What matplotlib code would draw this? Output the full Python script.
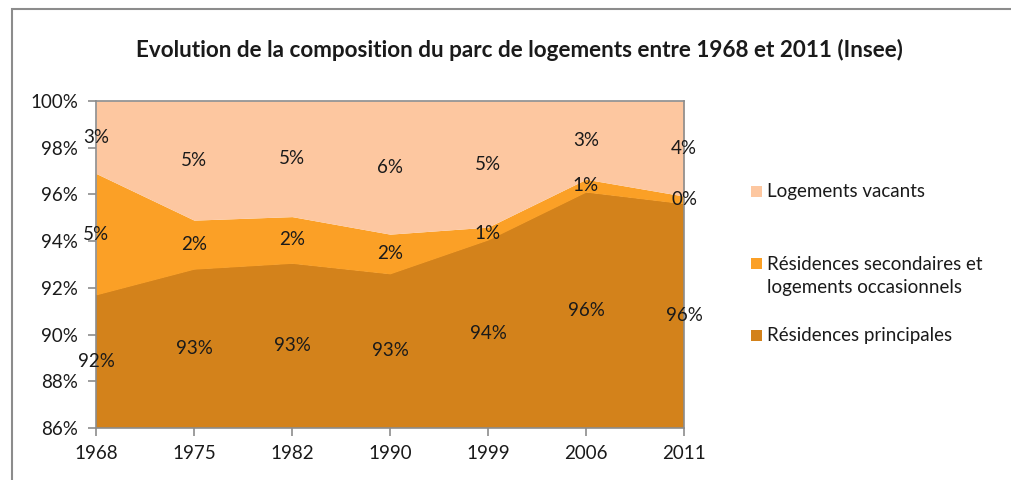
import matplotlib.pyplot as plt
from matplotlib.patches import Rectangle
import numpy as np

plt.rcParams['font.family'] = ['Lato', 'DejaVu Sans']

years = ['1968', '1975', '1982', '1990', '1999', '2006', '2011']
principales = [91.7, 92.8, 93.05, 92.6, 94.05, 96.1, 95.6]
secondaires = [5.2, 2.1, 2.0, 1.7, 0.55, 0.55, 0.33]
vacants = [3.1, 5.1, 4.95, 5.7, 5.4, 3.35, 4.07]

names = ['Logements vacants',
         'Résidences secondaires et\nlogements occasionnels',
         'Résidences principales']
colors = {'vac': '#fdc7a0', 'sec': '#fba026', 'pri': '#d3821b'}

x = np.arange(len(years))
p = np.array(principales)
s = p + np.array(secondaires)
v = s + np.array(vacants)

fig = plt.figure(figsize=(10.11, 4.8), dpi=100)
ax = fig.add_axes([96 / 1011, 1 - 428 / 480, 588 / 1011, 327 / 480])

ax.fill_between(x, 0, p, color=colors['pri'], lw=0)
ax.fill_between(x, p, s, color=colors['sec'], lw=0)
ax.fill_between(x, s, v, color=colors['vac'], lw=0)

ymin, ymax = 86, 100
ax.set_xlim(0, len(years) - 1)
ax.set_ylim(ymin, ymax)

fs = 13.5

# data labels, centred in the visible part of each band
for lo, hi, vals in [(np.zeros_like(p), p, principales), (p, s, secondaires), (s, v, vacants)]:
    for i in range(len(years)):
        a = max(lo[i], ymin)
        b = min(hi[i], ymax)
        ax.text(x[i], (a + b) / 2, '{:.0f}%'.format(vals[i]), ha='center', va='center',
                fontsize=fs, color='#1a1a1a')

ax.set_xticks(x)
ax.set_xticklabels(years)
ax.set_yticks(np.arange(86, 101, 2))
ax.set_yticklabels(['{}%'.format(t) for t in range(86, 101, 2)])
ax.tick_params(axis='both', labelsize=fs, color='#8c8c8c', length=6, width=1.2,
               labelcolor='#1a1a1a')
ax.tick_params(axis='y', pad=7)
ax.tick_params(axis='x', pad=6)
for sp in ax.spines.values():
    sp.set_color('#8c8c8c')
    sp.set_linewidth(1.2)

fig.text(519 / 1011, 1 - 50 / 480,
         'Evolution de la composition du parc de logements entre 1968 et 2011 (Insee)',
         ha='center', va='center', fontsize=16.2, fontweight='bold', color='#1a1a1a')

# legend
leg_items = [(colors['vac'], names[0], 191, 191),
             (colors['sec'], names[1], 263, 276),
             (colors['pri'], names[2], 335, 335)]
for c, label, ysq, ytxt in leg_items:
    fig.add_artist(Rectangle((751 / 1011, 1 - (ysq + 6) / 480), 11 / 1011, 11 / 480,
                             transform=fig.transFigure, color=c, lw=0))
    fig.text(767 / 1011, 1 - ytxt / 480, label, ha='left', va='center', fontsize=fs,
             color='#1a1a1a', linespacing=1.5)

# outer frame (cropped)
fig.add_artist(Rectangle((11.5 / 1011, -0.2), 1.2, 1 - 8.5 / 480 + 0.2,
                         transform=fig.transFigure, fill=False, ec='#8c8c8c', lw=1.5))

fig.savefig('out.png', dpi=100)
